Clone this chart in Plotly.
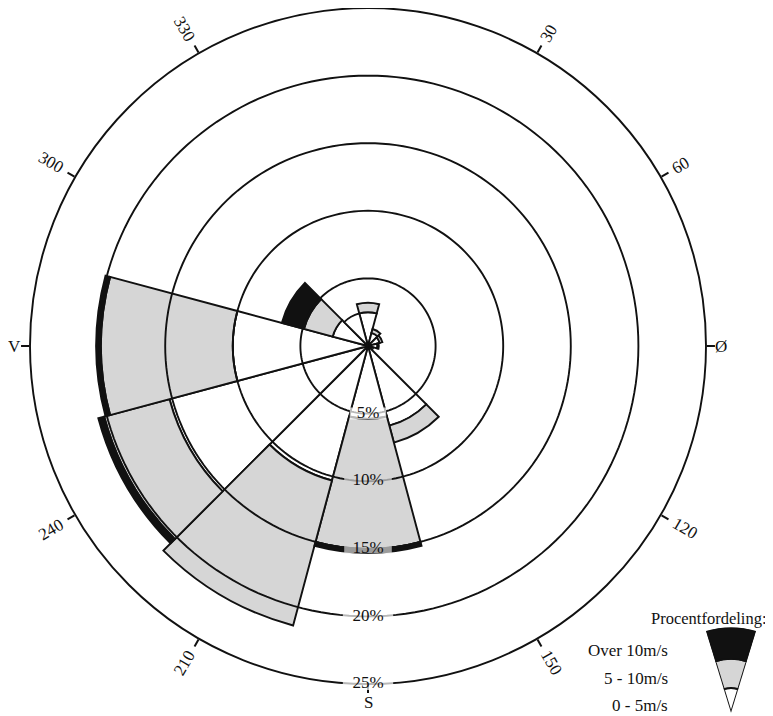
import math
import plotly.graph_objects as go

# ---------------- data (percent of time) ----------------
directions = [0, 30, 60, 90, 120, 150, 180, 210, 240, 270, 300, 330]
speed_0_5 = [2.5, 1.0, 0.9, 0.7, 0.4, 6.1, 5.4, 10.3, 15.2, 10.0, 2.7, 2.5]
speed_5_10 = [0.7, 0.3, 0.2, 0.1, 0.0, 1.3, 9.6, 11.1, 5.0, 9.75, 2.2, 0.0]
speed_over_10 = [0.0, 0.0, 0.0, 0.0, 0.0, 0.0, 0.3, 0.0, 0.45, 0.35, 1.7, 0.0]

ring_levels = [5, 10, 15, 20, 25]
ring_labels = ["5%", "10%", "15%", "20%", "25%"]
direction_ticks = [30, 60, 90, 120, 150, 180, 210, 240, 270, 300, 330]
direction_labels = ["30", "60", "Ø", "120", "150", "S", "210", "240", "V", "300", "330"]

legend_title = "Procentfordeling:"
legend_labels = ["0 - 5m/s", "5 - 10m/s", "Over 10m/s"]
legend_wedge = [0.29, 0.34, 0.37]

# ---------------- styling / geometry ----------------
W, H = 773, 716
OFF = 8                      # page margin around the figure
CX, CY, R = 368 - OFF, 346 - OFF, 338
FONT = "Liberation Serif"
WHITE, GRAY, BLACK = "#ffffff", "#d6d6d6", "#111111"
colors = [WHITE, GRAY, BLACK]
LW = 1.9


def paper(px, py):
    return px / W, 1 - py / H


fig = go.Figure()

series = [speed_0_5, speed_5_10, speed_over_10]
for vals, col, name in zip(series, colors, legend_labels):
    fig.add_trace(go.Barpolar(
        r=vals, theta=directions, width=[30] * len(directions),
        marker=dict(color=col, line=dict(color=BLACK, width=LW)),
        name=name, showlegend=False, subplot="polar"))

# rings drawn above the bars
ring_theta = list(range(0, 361, 2))
for lvl in ring_levels[:-1]:
    fig.add_trace(go.Scatterpolar(
        r=[lvl] * len(ring_theta), theta=ring_theta, mode="lines",
        line=dict(color=BLACK, width=LW), hoverinfo="skip",
        showlegend=False, subplot="polar"))

# ring labels with covers
cover_cols = [WHITE, GRAY, GRAY, WHITE, WHITE]
cover_size = [26, 34, 34, 36, 36]
cover_h = [12, 12, 9, 12, 12]
fig.add_trace(go.Scatterpolar(
    r=ring_levels, theta=[180] * len(ring_levels), mode="markers+text",
    text=ring_labels, textposition="middle center",
    textfont=dict(family=FONT, size=17, color=BLACK),
    marker=dict(symbol="line-ew", size=cover_size, color=cover_cols,
                line=dict(color=cover_cols, width=cover_h)),
    cliponaxis=False, hoverinfo="skip", showlegend=False, subplot="polar"))

# legend wedge
for v, col in zip(legend_wedge, colors):
    fig.add_trace(go.Barpolar(
        r=[v], theta=[0], width=[34],
        marker=dict(color=col, line=dict(color=BLACK, width=LW)),
        showlegend=False, subplot="polar2", hoverinfo="skip"))

annotations = []
for b, lab in zip(direction_ticks, direction_labels):
    if lab == "S":
        rr, ang = R + 18, 0
    elif lab in ("V", "Ø"):
        rr, ang = R + 15, 0
    else:
        rr = R + 13 + 5.0 * len(lab)
        ang = b - 90 if b < 180 else b - 270
    px = CX + rr * math.sin(math.radians(b))
    py = CY - rr * math.cos(math.radians(b))
    x, y = paper(px, py)
    annotations.append(dict(
        x=x, y=y, xref="paper", yref="paper", text=lab,
        showarrow=False, textangle=ang, xanchor="center", yanchor="middle",
        font=dict(family=FONT, size=17, color=BLACK)))

x, y = paper(708 - OFF, 618 - OFF)
annotations.append(dict(x=x, y=y, xref="paper", yref="paper",
                        text=legend_title, showarrow=False, xanchor="center",
                        yanchor="middle", font=dict(family=FONT, size=16.5, color=BLACK)))
for lab, ypx in zip(legend_labels, [705, 678, 650]):
    x, y = paper(670 - OFF, ypx - OFF)
    annotations.append(dict(x=x, y=y, xref="paper", yref="paper",
                            text=lab, showarrow=False, xanchor="right",
                            yanchor="middle", font=dict(family=FONT, size=17, color=BLACK)))

lx0, ly0 = paper(706 - OFF, 713 - OFF)
lx1, ly1 = paper(756 - OFF, 627 - OFF)

fig.update_layout(
    width=W, height=H, margin=dict(l=0, r=0, t=0, b=0),
    paper_bgcolor="white", plot_bgcolor="white", showlegend=False,
    polar=dict(
        domain=dict(x=[(CX - R) / W, (CX + R) / W],
                    y=[1 - (CY + R) / H, 1 - (CY - R) / H]),
        bgcolor="white", barmode="stack",
        radialaxis=dict(range=[0, 25], showgrid=False, showline=False,
                        showticklabels=False, ticks=""),
        angularaxis=dict(rotation=90, direction="clockwise", tickmode="array",
                         tickvals=direction_ticks, showticklabels=False,
                         ticks="outside", ticklen=8, tickwidth=LW, tickcolor=BLACK,
                         showgrid=False, showline=True, linecolor=BLACK, linewidth=LW,
                         layer="below traces"),
    ),
    polar2=dict(
        domain=dict(x=[lx0, lx1], y=[ly0, ly1]),
        sector=[73, 107], bgcolor="rgba(0,0,0,0)", barmode="stack",
        radialaxis=dict(visible=False, range=[0, 1]),
        angularaxis=dict(visible=False, rotation=90, direction="clockwise"),
    ),
    annotations=annotations,
)

fig.write_html("out.html")
